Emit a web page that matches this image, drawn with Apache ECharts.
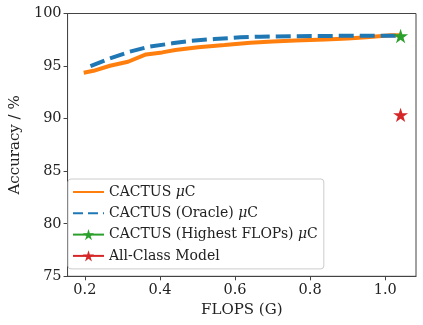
<!DOCTYPE html>
<html>
<head>
<meta charset="utf-8">
<script src="https://cdn.jsdelivr.net/npm/echarts@6/dist/echarts.min.js"></script>
<style>
html,body{margin:0;padding:0;background:#fff;}
#c{width:423px;height:325px;}
</style>
</head>
<body>
<div id="c"></div>
<script>
// Data
var cactusX = [0.197, 0.223, 0.267, 0.315, 0.363, 0.406, 0.441, 0.502, 0.572, 0.641, 0.70, 0.76, 0.84, 0.90, 0.95, 1.015, 1.037];
var cactusY = [94.36, 94.55, 95.03, 95.41, 96.11, 96.30, 96.52, 96.78, 97.00, 97.22, 97.34, 97.44, 97.53, 97.63, 97.75, 97.92, 97.93];
var oracleX = [0.215, 0.267, 0.319, 0.371, 0.432, 0.485, 0.545, 0.615, 0.667, 0.75, 0.85, 0.95, 1.037];
var oracleY = [95.00, 95.73, 96.36, 96.84, 97.16, 97.41, 97.57, 97.73, 97.80, 97.84, 97.87, 97.88, 97.89];
var highestX = [1.041];
var highestY = [97.86];
var allClassX = [1.041];
var allClassY = [90.35];
var xTicks = [0.2, 0.4, 0.6, 0.8, 1.0];
var yTicks = [75, 80, 85, 90, 95, 100];
var seriesNames = ['CACTUS μC', 'CACTUS (Oracle) μC', 'CACTUS (Highest FLOPs) μC', 'All-Class Model'];

function zip(a, b) { return a.map(function (v, i) { return [v, b[i]]; }); }

var STAR = 'path://M0,-10L2.245,-3.09L9.51,-3.09L3.633,1.18L5.878,8.09L0,3.82L-5.878,8.09L-3.633,1.18L-9.51,-3.09L-2.245,-3.09Z';
var FONT = 'DejaVu Serif';

var chart = echarts.init(document.getElementById('c'), null, {renderer: 'canvas'});
chart.setOption({
  animation: false,
  backgroundColor: '#fff',
  grid: {left: 60, right: 7, top: 13.5, bottom: 48.7, show: true, borderColor: '#444', borderWidth: 1, backgroundColor: 'transparent'},
  xAxis: {
    type: 'value', min: 0.154, max: 1.082,
    name: 'FLOPS (G)', nameLocation: 'middle', nameGap: 22,
    nameTextStyle: {fontFamily: FONT, fontSize: 15, color: '#222'},
    axisLine: {show: true, lineStyle: {color: '#444', width: 1}},
    axisTick: {show: true, inside: false, length: 4, customValues: xTicks, lineStyle: {color: '#444'}},
    axisLabel: {customValues: xTicks, margin: 6, fontFamily: FONT, fontSize: 14.5, color: '#222',
      formatter: function (v) { return v.toFixed(1); }},
    splitLine: {show: false}
  },
  yAxis: {
    type: 'value', min: 75, max: 100, interval: 5,
    name: 'Accuracy / %', nameLocation: 'middle', nameGap: 41,
    nameTextStyle: {fontFamily: FONT, fontSize: 15, color: '#222'},
    axisLine: {show: true, lineStyle: {color: '#444', width: 1}},
    axisTick: {show: true, inside: false, length: 4, lineStyle: {color: '#444'}},
    axisLabel: {margin: 6, fontFamily: FONT, fontSize: 14.5, color: '#222'},
    splitLine: {show: false}
  },
  legend: {
    left: 68, top: 179, orient: 'vertical',
    padding: [6, 6, 6, 4],
    itemWidth: 31, itemHeight: 14, itemGap: 7.3,
    backgroundColor: '#fff', borderColor: '#ccc', borderWidth: 1, borderRadius: 3,
    data: [
      {name: seriesNames[0], itemStyle: {opacity: 0}},
      {name: seriesNames[1], itemStyle: {opacity: 0}, lineStyle: {type: [10, 5]}},
      {name: seriesNames[2]},
      {name: seriesNames[3]}
    ],
    formatter: function (n) { return n.replace('μ', '{i|μ}'); },
    textStyle: {fontFamily: FONT, fontSize: 14, color: '#222',
      rich: {i: {fontFamily: FONT, fontStyle: 'italic', fontSize: 14, color: '#222'}}}
  },
  series: [
    {name: seriesNames[0], type: 'line', data: zip(cactusX, cactusY), symbol: 'none',
      lineStyle: {color: '#ff7f0e', width: 4}, itemStyle: {color: '#ff7f0e'}, z: 2},
    {name: seriesNames[1], type: 'line', data: zip(oracleX, oracleY), symbol: 'none',
      lineStyle: {color: '#1f77b4', width: 4, type: [15, 6]}, itemStyle: {color: '#1f77b4'}, z: 3},
    {name: seriesNames[2], type: 'line', data: zip(highestX, highestY), symbol: STAR, symbolSize: 15,
      symbolKeepAspect: true, showSymbol: true,
      lineStyle: {color: '#2ca02c', width: 1.5}, itemStyle: {color: '#2ca02c'}, z: 4},
    {name: seriesNames[3], type: 'line', data: zip(allClassX, allClassY), symbol: STAR, symbolSize: 15,
      symbolKeepAspect: true, showSymbol: true,
      lineStyle: {color: '#d62728', width: 1.5}, itemStyle: {color: '#d62728'}, z: 4}
  ]
});
</script>
</body>
</html>
